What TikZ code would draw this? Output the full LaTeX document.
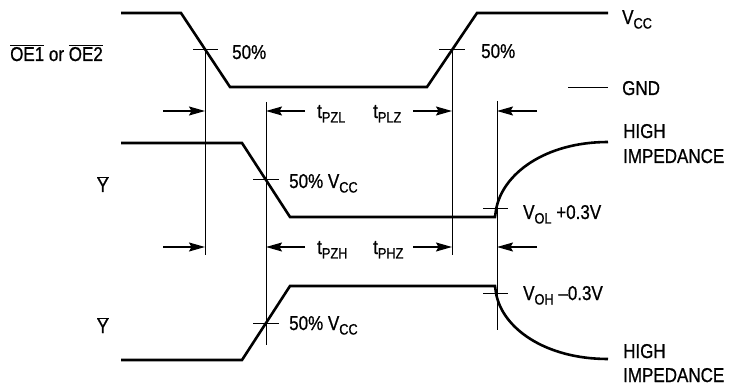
\documentclass[tikz,border=0pt]{standalone}
\usepackage{fontspec}
\setmainfont{Liberation Sans}[FakeStretch=0.85,FakeBold=0.8]
\usetikzlibrary{arrows.meta}
\newcommand{\sbs}[1]{\raisebox{-4.5pt}{\fontsize{15}{15}\selectfont #1}}
\newcommand{\ovl}[1]{$\overline{\mbox{#1}}$}
\begin{document}
\begin{tikzpicture}[x=1pt,y=-1pt,
 wave/.style={line width=2.6pt, line join=miter},
 guide/.style={line width=1pt},
 tickmark/.style={line width=1pt},
 dim/.style={line width=1.3pt, -{Stealth[length=16pt,width=9pt,inset=2.5pt]}},
 lbl/.style={anchor=base west, inner sep=0pt, font=\fontsize{20}{25}\selectfont}]
\useasboundingbox (0,0) rectangle (747,390);

% OE waveform
\coordinate (a0) at (121,13);
\coordinate (a1) at (181,13);
\coordinate (a2) at (230,87);
\coordinate (a3) at (427,87);
\coordinate (a4) at (477,13);
\coordinate (a5) at (608,13);
\draw[wave] (a0) -- (a1) -- (a2) -- (a3) -- (a4) -- (a5);

% upper Y waveform
\coordinate (b0) at (121,143);
\coordinate (b1) at (242,143);
\coordinate (b2) at (290,217);
\coordinate (b3) at (495,217);
\coordinate (b4) at (496,210);
\coordinate (b5) at (608,142);
\draw[wave] (b0) -- (b1) -- (b2) -- (b3) -- (b4) .. controls (502,174) and (545,142) .. (b5);

% lower Y waveform
\coordinate (c0) at (121,360);
\coordinate (c1) at (242,360);
\coordinate (c2) at (290,286);
\coordinate (c3) at (495,286);
\coordinate (c4) at (496,293);
\coordinate (c5) at (608,359);
\draw[wave] (c0) -- (c1) -- (c2) -- (c3) -- (c4) .. controls (502,328) and (545,359) .. (c5);

% tick marks
\coordinate (t1a) at (193,50); \coordinate (t1b) at (218,50);
\coordinate (t2a) at (439,50); \coordinate (t2b) at (465,50);
\coordinate (t3a) at (253,180); \coordinate (t3b) at (279,180);
\coordinate (t4a) at (483,209); \coordinate (t4b) at (508,209);
\coordinate (t5a) at (253,323); \coordinate (t5b) at (279,323);
\coordinate (t6a) at (483,293); \coordinate (t6b) at (508,293);
\draw[tickmark] (t1a) -- (t1b);
\draw[tickmark] (t2a) -- (t2b);
\draw[tickmark] (t3a) -- (t3b);
\draw[tickmark] (t4a) -- (t4b);
\draw[tickmark] (t5a) -- (t5b);
\draw[tickmark] (t6a) -- (t6b);

% vertical guides
\coordinate (g1a) at (205,50);  \coordinate (g1b) at (205,255);
\coordinate (g2a) at (266,102); \coordinate (g2b) at (266,345);
\coordinate (g3a) at (452,50);  \coordinate (g3b) at (452,255);
\coordinate (g4a) at (497,101); \coordinate (g4b) at (497,330);
\draw[guide] (g1a) -- (g1b);
\draw[guide] (g2a) -- (g2b);
\draw[guide] (g3a) -- (g3b);
\draw[guide] (g4a) -- (g4b);

% GND line
\coordinate (gnd1) at (568,88); \coordinate (gnd2) at (608,88);
\draw[guide] (gnd1) -- (gnd2);

% dimension arrows
\coordinate (d1s) at (163,111); \coordinate (d1e) at (205,111);
\coordinate (d2s) at (305,111); \coordinate (d2e) at (266,111);
\coordinate (d3s) at (413,111); \coordinate (d3e) at (452,111);
\coordinate (d4s) at (537,111); \coordinate (d4e) at (497,111);
\coordinate (e1s) at (163,247); \coordinate (e1e) at (205,247);
\coordinate (e2s) at (305,247); \coordinate (e2e) at (266,247);
\coordinate (e3s) at (413,247); \coordinate (e3e) at (452,247);
\coordinate (e4s) at (537,247); \coordinate (e4e) at (497,247);
\draw[dim] (d1s) -- (d1e);
\draw[dim] (d2s) -- (d2e);
\draw[dim] (d3s) -- (d3e);
\draw[dim] (d4s) -- (d4e);
\draw[dim] (e1s) -- (e1e);
\draw[dim] (e2s) -- (e2e);
\draw[dim] (e3s) -- (e3e);
\draw[dim] (e4s) -- (e4e);

% labels
\node[lbl] (oe) at (10,61) {\ovl{OE1} or \ovl{OE2}};
\node[lbl] (p1) at (232,59) {50\%};
\node[lbl] (p2) at (481,58) {50\%};
\node[lbl] (vcc) at (622,24) {V\sbs{CC}};
\node[lbl] (gnd) at (622,95) {GND};
\node[lbl] (tpzl) at (317,118) {t\sbs{PZL}};
\node[lbl] (tplz) at (373,118) {t\sbs{PLZ}};
\node[lbl] (y1) at (97,192) {\ovl{Y}};
\node[lbl] (p3) at (289,188) {50\% V\sbs{CC}};
\node[lbl] (hi1) at (623,138) {HIGH};
\node[lbl] (im1) at (623,163) {IMPEDANCE};
\node[lbl] (vol) at (523,219) {V\sbs{OL} +0.3V};
\node[lbl] (tpzh) at (317,254) {t\sbs{PZH}};
\node[lbl] (tphz) at (373,254) {t\sbs{PHZ}};
\node[lbl] (y2) at (97,333) {\ovl{Y}};
\node[lbl] (p4) at (289,330) {50\% V\sbs{CC}};
\node[lbl] (voh) at (523,300) {V\sbs{OH} –0.3V};
\node[lbl] (hi2) at (623,358) {HIGH};
\node[lbl] (im2) at (623,382) {IMPEDANCE};
\end{tikzpicture}
\end{document}
